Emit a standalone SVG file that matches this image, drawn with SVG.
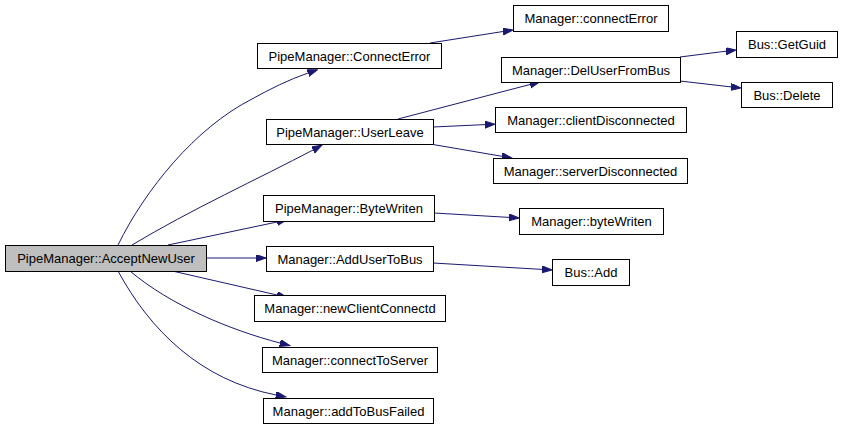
<svg xmlns="http://www.w3.org/2000/svg" width="843" height="429" viewBox="0 0 843 429">
<style>
.n rect{fill:#fff;stroke:#000;stroke-width:1}
.root rect{fill:#bfbfbf}
.n text{font-family:"Liberation Sans",Arial,sans-serif;font-size:13px;text-anchor:middle;fill:#000}
.e path{fill:none;stroke:#191970;stroke-width:1;marker-end:url(#ah)}
</style>
<defs>
<marker id="ah" markerUnits="userSpaceOnUse" markerWidth="11" markerHeight="8" refX="0" refY="3.5" orient="auto">
<path d="M0,0 L10,3.5 L0,7 z" fill="#191970" stroke="#191970"/>
</marker>
</defs>
<rect width="843" height="429" fill="#fff"/>
<g id="connectors" class="e">
<path d="M118,245 C145,190 195,128 252,99 C270,89 288,80 308,73"/>
<path d="M132,245 C190,210 260,178 313,150"/>
<path d="M168,245 L277,222"/>
<path d="M206,258 L256,258"/>
<path d="M168,270 L277,295"/>
<path d="M130,271 C170,305 230,330 280,343"/>
<path d="M118,271 C150,330 200,380 276,395"/>
<path d="M430,43 L503,31.5"/>
<path d="M398,119 L530,84.5"/>
<path d="M433,127 L485,124.6"/>
<path d="M430,144 L502,156.3"/>
<path d="M680,57 L726,51.2"/>
<path d="M680,81 L731,86.9"/>
<path d="M434,213 L509,217.4"/>
<path d="M433,263 L542,269.4"/>
</g>
<g id="n_AcceptNewUser" class="n root"><rect x="5.5" y="245.5" width="201" height="26"/><text x="106" y="263">PipeManager::AcceptNewUser</text></g>
<g id="n_ConnectError" class="n"><rect x="257.5" y="43.5" width="184" height="25"/><text x="349.5" y="60.5">PipeManager::ConnectError</text></g>
<g id="n_UserLeave" class="n"><rect x="266.5" y="119.5" width="167" height="25"/><text x="350" y="136.5">PipeManager::UserLeave</text></g>
<g id="n_ByteWriten" class="n"><rect x="263.5" y="195.5" width="171" height="26"/><text x="349" y="213">PipeManager::ByteWriten</text></g>
<g id="n_AddUserToBus" class="n"><rect x="266.5" y="246.5" width="167" height="25"/><text x="350" y="263.5">Manager::AddUserToBus</text></g>
<g id="n_newClientConnectd" class="n"><rect x="254.5" y="295.5" width="191" height="26"/><text x="350" y="313">Manager::newClientConnectd</text></g>
<g id="n_connectToServer" class="n"><rect x="262.5" y="347.5" width="175" height="25"/><text x="350" y="364.5">Manager::connectToServer</text></g>
<g id="n_addToBusFailed" class="n"><rect x="263.5" y="398.5" width="170" height="25"/><text x="348.5" y="415.5">Manager::addToBusFailed</text></g>
<g id="n_connectError" class="n"><rect x="513.5" y="5.5" width="155" height="26"/><text x="591" y="23">Manager::connectError</text></g>
<g id="n_DelUserFromBus" class="n"><rect x="501.5" y="57.5" width="179" height="25"/><text x="591" y="74.5">Manager::DelUserFromBus</text></g>
<g id="n_clientDisconnected" class="n"><rect x="495.5" y="107.5" width="191" height="25"/><text x="591" y="124.5">Manager::clientDisconnected</text></g>
<g id="n_serverDisconnected" class="n"><rect x="493.5" y="158.5" width="194" height="25"/><text x="590.5" y="175.5">Manager::serverDisconnected</text></g>
<g id="n_byteWriten" class="n"><rect x="519.5" y="208.5" width="144" height="26"/><text x="591.5" y="226">Manager::byteWriten</text></g>
<g id="n_Add" class="n"><rect x="552.5" y="259.5" width="77" height="26"/><text x="591" y="277">Bus::Add</text></g>
<g id="n_GetGuid" class="n"><rect x="736.5" y="31.5" width="101" height="26"/><text x="787" y="49">Bus::GetGuid</text></g>
<g id="n_Delete" class="n"><rect x="741.5" y="82.5" width="91" height="25"/><text x="787" y="99.5">Bus::Delete</text></g>
</svg>
